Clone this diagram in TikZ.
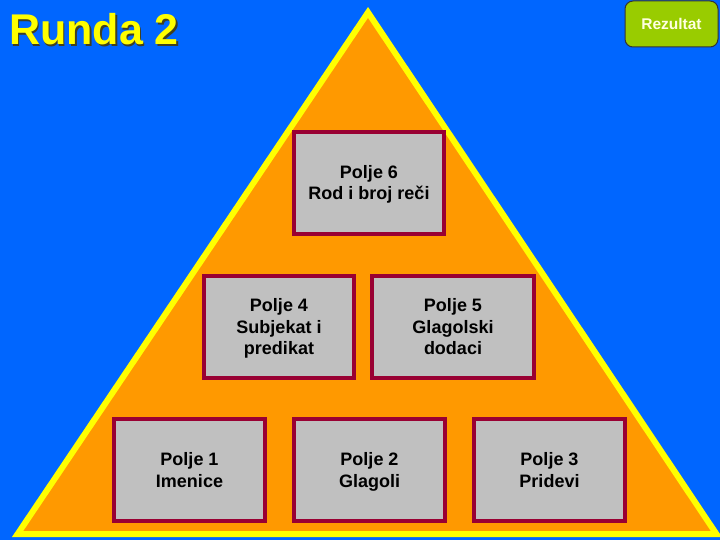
\documentclass[tikz,border=0pt]{standalone}
\usepackage{fontspec}
\setmainfont{Liberation Sans}
\definecolor{bgblue}{HTML}{0066FF}
\definecolor{triorange}{HTML}{FF9900}
\definecolor{triyellow}{HTML}{FFFF00}
\definecolor{boxgray}{HTML}{C0C0C0}
\definecolor{boxred}{HTML}{990033}
\definecolor{btngreen}{HTML}{99CC00}
\definecolor{btntext}{HTML}{FFFFE0}
\definecolor{shadowc}{HTML}{404020}
\newcommand\fstrut{\rule[-4.5pt]{0pt}{21.5pt}}
\tikzset{
  fieldbox/.style={draw=boxred, line width=4pt, fill=boxgray, minimum height=102pt,
    inner sep=0pt, align=center, text=black,
    font=\fontsize{18}{21.5}\selectfont\bfseries},
}
\begin{document}
\begin{tikzpicture}[x=1pt,y=-1pt]
\useasboundingbox (0,0) rectangle (720,540);
\fill[bgblue] (0,0) rectangle (720,540);
% triangle
\draw[triyellow, line width=6pt, fill=triorange, line join=miter]
  (368,12.4) -- (17.6,534) -- (716.4,534) -- cycle;
% title
\node[anchor=base west, inner sep=0pt, text=shadowc, font=\fontsize{43}{43}\selectfont\bfseries] at (10.5,46.5) {Runda 2};
\node[anchor=base west, inner sep=0pt, text=triyellow, font=\fontsize{43}{43}\selectfont\bfseries] (title) at (9,45) {Runda 2};
% button
\node[draw=black!80, line width=1pt, fill=btngreen, rounded corners=8pt,
  minimum width=93pt, minimum height=46pt, inner sep=0pt, text=btntext,
  font=\fontsize{15.5}{18}\selectfont\bfseries] (rez) at (671.5,24) {Rezultat};
% boxes
\node[fieldbox, minimum width=150pt] (p6) at (369,183) {\fstrut Polje 6\\\fstrut Rod i broj reči};
\node[fieldbox, minimum width=150pt] (p4) at (279,327) {\fstrut Polje 4\\\fstrut Subjekat i\\\fstrut predikat};
\node[fieldbox, minimum width=162pt] (p5) at (453,327) {\fstrut Polje 5\\\fstrut Glagolski\\\fstrut dodaci};
\node[fieldbox, minimum width=151pt] (p1) at (189.5,470) {\fstrut Polje 1\\\fstrut Imenice};
\node[fieldbox, minimum width=151pt] (p2) at (369.5,470) {\fstrut Polje 2\\\fstrut Glagoli};
\node[fieldbox, minimum width=151pt] (p3) at (549.5,470) {\fstrut Polje 3\\\fstrut Pridevi};
\end{tikzpicture}
\end{document}
